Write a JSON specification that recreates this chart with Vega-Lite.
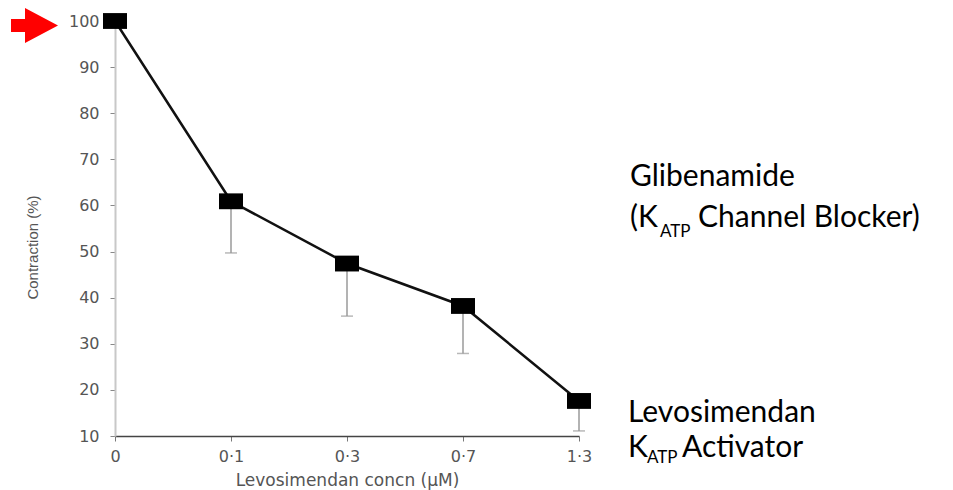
{
  "$schema": "https://vega.github.io/schema/vega-lite/v6.json",
  "autosize": "none",
  "width": 464,
  "height": 415,
  "padding": {"left": 115, "top": 21, "right": 374, "bottom": 54},
  "background": "white",
  "config": {
    "view": {"stroke": null},
    "axis": {
      "labelFont": "DejaVu Sans",
      "labelFontSize": 16,
      "labelColor": "#555555",
      "titleFont": "Liberation Sans",
      "titleFontWeight": "normal",
      "titleColor": "#555555",
      "grid": false
    }
  },
  "data": {
    "values": [
      {"conc": "0", "contraction": 100, "lower": null},
      {"conc": "0·1", "contraction": 60.9, "lower": 49.7},
      {"conc": "0·3", "contraction": 47.4, "lower": 36.0},
      {"conc": "0·7", "contraction": 38.2, "lower": 27.9},
      {"conc": "1·3", "contraction": 17.6, "lower": 11.1}
    ]
  },
  "encoding": {
    "x": {
      "field": "conc",
      "type": "ordinal",
      "sort": ["0", "0·1", "0·3", "0·7", "1·3"],
      "scale": {"type": "point", "padding": 0},
      "axis": {
        "title": "Levosimendan concn (μM)",
        "titleFont": "DejaVu Sans",
        "titleFontSize": 17,
        "titlePadding": 8,
        "labelAngle": 0,
        "labelPadding": 7,
        "tickSize": 5,
        "tickColor": "#777777",
        "domainColor": "#444444",
        "domainWidth": 1.5
      }
    }
  },
  "layer": [
    {
      "mark": {"type": "rule", "color": "#9a9a9a", "strokeWidth": 1.5},
      "encoding": {
        "y": {"field": "contraction", "type": "quantitative"},
        "y2": {"field": "lower"}
      }
    },
    {
      "mark": {"type": "tick", "orient": "horizontal", "color": "#9a9a9a", "thickness": 1.5, "size": 12},
      "encoding": {
        "y": {"field": "lower", "type": "quantitative"}
      }
    },
    {
      "mark": {"type": "line", "color": "#111111", "strokeWidth": 2.5},
      "encoding": {
        "y": {
          "field": "contraction",
          "type": "quantitative",
          "scale": {"domain": [10, 100], "nice": false, "zero": false},
          "axis": {
            "title": "Contraction (%)",
            "titleFontSize": 15,
            "titleX": -83,
            "titleY": 226,
            "titleAngle": -90,
            "titleAlign": "center",
            "titleBaseline": "middle",
            "values": [10, 20, 30, 40, 50, 60, 70, 80, 90, 100],
            "tickSize": 5,
            "tickColor": "#888888",
            "labelPadding": 11,
            "domainColor": "#c8c8c8",
            "domainWidth": 2
          }
        }
      }
    },
    {
      "mark": {
        "type": "point",
        "shape": "M-1,-0.66H1V0.66H-1Z",
        "size": 576,
        "filled": true,
        "opacity": 1,
        "color": "#000000"
      },
      "encoding": {
        "y": {"field": "contraction", "type": "quantitative"}
      }
    },
    {
      "data": {"values": [{}]},
      "mark": {
        "type": "point",
        "shape": "M-10.4,-0.2H-9.0V-1.3L-5.7,0.45L-9.0,2.2V1.1H-10.4Z",
        "size": 400,
        "filled": true,
        "opacity": 1,
        "color": "#ff0000",
        "clip": false
      },
      "encoding": {
        "x": {"datum": "0"},
        "y": {"datum": 100}
      }
    },
    {
      "data": {"values": [{}]},
      "mark": {"type": "text", "text": "Glibenamide", "font": "Lato", "fontSize": 30, "align": "left", "baseline": "alphabetic", "dx": 51, "color": "#000000"},
      "encoding": {"x": {"datum": "1·3"}, "y": {"datum": 64.2}}
    },
    {
      "data": {"values": [{}]},
      "mark": {"type": "text", "text": "(K", "font": "Lato", "fontSize": 30, "align": "left", "baseline": "alphabetic", "dx": 51, "color": "#000000"},
      "encoding": {"x": {"datum": "1·3"}, "y": {"datum": 55.3}}
    },
    {
      "data": {"values": [{}]},
      "mark": {"type": "text", "text": "ATP", "font": "Lato", "fontSize": 17, "align": "left", "baseline": "alphabetic", "dx": 81, "color": "#000000"},
      "encoding": {"x": {"datum": "1·3"}, "y": {"datum": 53.2}}
    },
    {
      "data": {"values": [{}]},
      "mark": {"type": "text", "text": "Channel Blocker)", "font": "Lato", "fontSize": 30, "align": "left", "baseline": "alphabetic", "dx": 119, "color": "#000000"},
      "encoding": {"x": {"datum": "1·3"}, "y": {"datum": 55.3}}
    },
    {
      "data": {"values": [{}]},
      "mark": {"type": "text", "text": "Levosimendan", "font": "Lato", "fontSize": 30, "align": "left", "baseline": "alphabetic", "dx": 49, "color": "#000000"},
      "encoding": {"x": {"datum": "1·3"}, "y": {"datum": 13.0}}
    },
    {
      "data": {"values": [{}]},
      "mark": {"type": "text", "text": "K", "font": "Lato", "fontSize": 30, "align": "left", "baseline": "alphabetic", "dx": 49, "color": "#000000"},
      "encoding": {"x": {"datum": "1·3"}, "y": {"datum": 5.44}}
    },
    {
      "data": {"values": [{}]},
      "mark": {"type": "text", "text": "ATP", "font": "Lato", "fontSize": 17, "align": "left", "baseline": "alphabetic", "dx": 68, "color": "#000000"},
      "encoding": {"x": {"datum": "1·3"}, "y": {"datum": 4.14}}
    },
    {
      "data": {"values": [{}]},
      "mark": {"type": "text", "text": "Activator", "font": "Lato", "fontSize": 30, "align": "left", "baseline": "alphabetic", "dx": 103, "color": "#000000"},
      "encoding": {"x": {"datum": "1·3"}, "y": {"datum": 5.44}}
    }
  ]
}
